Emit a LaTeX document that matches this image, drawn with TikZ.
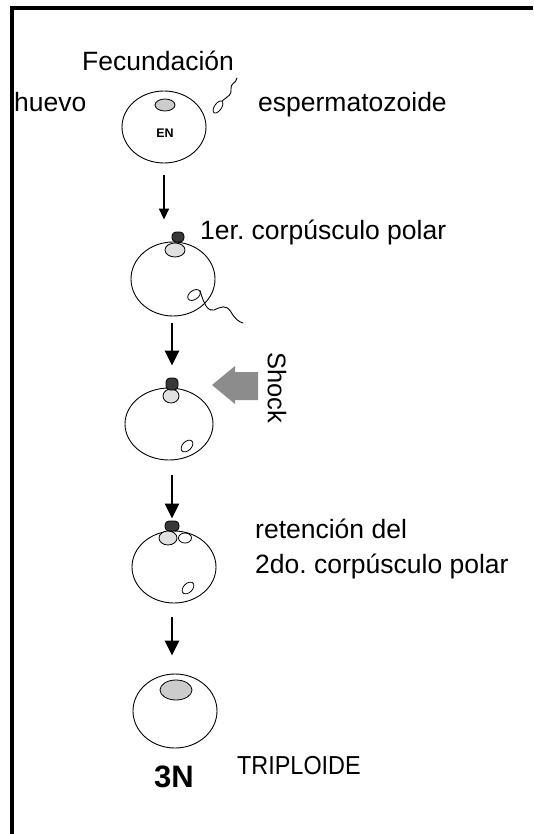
\documentclass[tikz,border=0pt]{standalone}
\usepackage{fontspec}
\setmainfont{Liberation Sans}
\frenchspacing
\usetikzlibrary{arrows.meta,shapes.geometric}

\tikzset{
  lbl/.style={font=\fontsize{26.5}{30}\selectfont, inner sep=0pt, anchor=base west},
  egg/.style={ellipse, draw, line width=0.9pt, inner sep=0pt,
              minimum width=84pt, minimum height=72pt},
  blob/.style={ellipse, draw, line width=0.8pt, inner sep=0pt},
  pdark/.style={draw, line width=0.8pt, rounded corners=4pt, inner sep=0pt, fill=black!78},
  plight/.style={blob, fill=black!12},
  thinarrow/.style={line width=1.4pt, -{Triangle[length=11pt,width=10pt]}},
  bigarrow/.style={line width=2.6pt, -{Triangle[length=15pt,width=14pt]}},
  tail/.style={line width=0.9pt, line cap=round}
}

\begin{document}
\begin{tikzpicture}[x=1pt,y=-1pt]
\useasboundingbox (0,0) rectangle (533,834);

% frame (top and left edges)
\fill (10,6) rectangle (533,10);
\fill (10,6) rectangle (14,834);

% labels
\node[lbl] (fec) at (82,71) {Fecundación};
\node[lbl] (huevo) at (14,112) {huevo};
\node[lbl] (esp) at (258,112) {espermatozoide};
\node[lbl] (pol1) at (200,239) {1er. corpúsculo polar};
\node[lbl] (ret1) at (255,538) {retención del};
\node[lbl] (ret2) at (255,573) {2do. corpúsculo polar};
\node[lbl, font=\fontsize{26}{30}\selectfont, xscale=0.9] (trip) at (237,774) {TRIPLOIDE};
\node[font=\bfseries\fontsize{31}{36}\selectfont, inner sep=0pt] (tres) at (174,777) {3N};
\node[font=\fontsize{25.5}{30}\selectfont, inner sep=0pt, rotate=-90] (shock) at (277,388) {Shock};

% egg 1: fertilisation
\node[egg, minimum height=72pt] (egg1) at (164,127) {};
\node[blob, fill=black!20, minimum width=20pt, minimum height=12pt] (nuc1) at (165,105) {};
\node[font=\bfseries\fontsize{12.5}{14}\selectfont, inner sep=0pt] (en) at (165,133) {EN};
% spermatozoon
\node[blob, minimum width=14pt, minimum height=7pt, rotate=55] (head1) at (218,107) {};
\draw[tail] (head1.east) .. controls (228,96) and (232,95) .. (231,89)
  .. controls (230,83) and (236,84) .. (237,78);

% egg 2: first polar body
\node[egg, minimum height=74pt] (egg2) at (173,279) {};
\node[plight, minimum width=20pt, minimum height=14pt] (pl2) at (175,250) {};
\node[pdark, minimum width=12pt, minimum height=10pt] (pd2) at (178,237) {};
\node[blob, minimum width=14pt, minimum height=9pt, rotate=35] (loop2) at (194,295) {};
\draw[tail] (loop2.east) .. controls (205,308) and (209,311) .. (214,310)
  .. controls (221,307) and (226,304) .. (231,312)
  .. controls (235,319) and (239,322) .. (243,323);

% egg 3: shock
\node[egg, minimum width=88pt] (egg3) at (169,424) {};
\node[plight, minimum width=16pt, minimum height=14pt] (pl3) at (171,396) {};
\node[pdark, minimum width=12pt, minimum height=12pt] (pd3) at (172,384) {};
\node[blob, minimum width=14pt, minimum height=9pt, rotate=45] (loop3) at (187,446) {};
\fill[black!45] (212,385) -- (235,366) -- (235,372) -- (258,372)
  -- (258,400) -- (235,400) -- (235,404) -- cycle;

% egg 4: second polar body retained
\node[egg] (egg4) at (174,567) {};
\node[plight, minimum width=18pt, minimum height=14pt] (pl4) at (168,538) {};
\node[blob, fill=white, minimum width=13pt, minimum height=10pt] (pw4) at (185,538) {};
\node[pdark, minimum width=14pt, minimum height=10pt] (pd4) at (172,526) {};
\node[blob, minimum width=14pt, minimum height=9pt, rotate=45] (loop4) at (188,588) {};

% egg 5: triploid
\node[egg, minimum height=74pt] (egg5) at (175,711) {};
\node[blob, fill=black!20, minimum width=32pt, minimum height=20pt] (nuc5) at (176,690) {};

% sequence arrows
\draw[thinarrow, shorten <=12pt, shorten >=12pt] (egg1.south) -- (egg1.south |- pd2.north);
\draw[bigarrow, shorten <=7pt, shorten >=12pt] (pd3.north |- egg2.south) -- (pd3.north);
\draw[bigarrow, shorten <=15pt, shorten >=2pt] (pd4.north |- egg3.south) -- (pd4.north);
\draw[bigarrow, shorten <=14pt, shorten >=18pt] (pd4.north |- egg4.south) -- (pd4.north |- egg5.north);
\end{tikzpicture}
\end{document}
